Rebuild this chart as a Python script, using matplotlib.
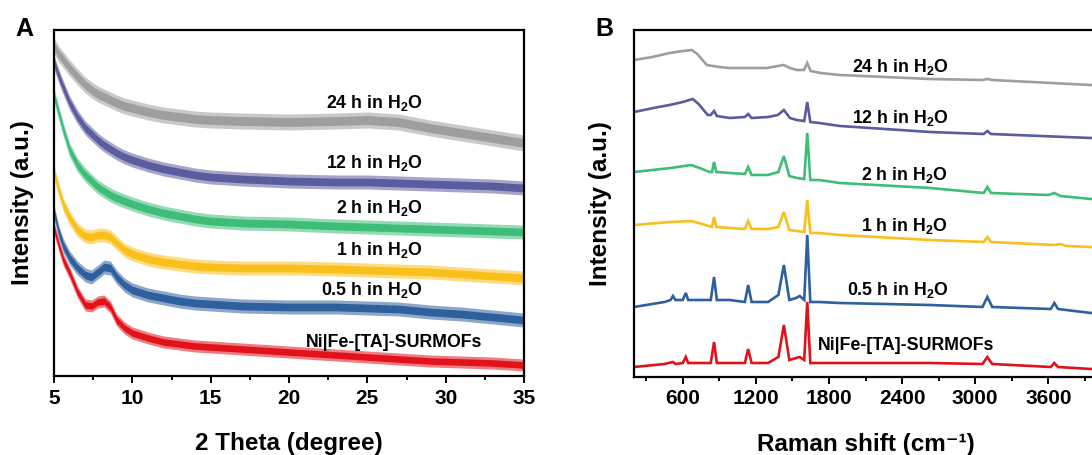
import matplotlib
matplotlib.use("Agg")
import matplotlib.pyplot as plt
import numpy as np
from matplotlib.ticker import MultipleLocator

plt.rcParams['font.family'] = ['Liberation Sans', 'DejaVu Sans']
plt.rcParams['font.weight'] = 'bold'
plt.rcParams['mathtext.fontset'] = 'custom'
plt.rcParams['mathtext.rm'] = 'Liberation Sans:bold'
plt.rcParams['mathtext.bf'] = 'Liberation Sans:bold'
plt.rcParams['mathtext.it'] = 'Liberation Sans:bold'
plt.rcParams['mathtext.sf'] = 'Liberation Sans:bold'
plt.rcParams['mathtext.default'] = 'rm'

# ---------------- XRD (panel A) ----------------
theta = [5, 5.3, 5.6, 6, 6.5, 7, 7.4, 7.8, 8.2, 8.6, 9, 9.5, 10, 11, 12, 13,
         14, 15, 17, 20, 23, 25, 27, 29, 31, 33, 35]
xrd_24h = [330, 322, 316, 308, 299, 291, 286, 282, 279, 276, 273, 270, 268, 264,
           261, 259, 257, 256, 255, 254, 255, 256, 254, 248, 243, 238, 233]
xrd_12h = [314, 300, 288, 273, 259, 248, 242, 236, 231, 227, 223, 219, 216, 211,
           207, 204, 201, 199, 197, 195, 194, 194, 193, 192, 191, 190, 188]
xrd_2h = [281, 263, 246, 226, 211, 201, 195, 189, 185, 181, 178, 175, 172, 167,
          163, 160, 157, 155, 153, 152, 150, 149, 148, 147, 146, 145, 144]
xrd_1h = [204, 186, 171, 158, 146, 140, 139, 141, 141, 139, 133, 126, 122, 117,
          114, 112, 110, 109, 108, 108, 107, 106, 105, 104, 102, 100, 98]
xrd_05h = [164, 144, 130, 118, 108, 101, 99, 104, 109, 108, 99, 91, 86, 81,
           78, 75, 73, 72, 70, 69, 69, 68, 67, 64, 62, 59, 56]
xrd_mof = [148, 131, 116, 103, 84, 71, 70, 74, 75, 69, 56, 48, 43, 38,
           34, 32, 30, 29, 27, 24, 21, 19, 17, 15, 14, 13, 11]
# half-height of the noise band of each pattern
xrd_noise = [8, 7, 7, 7, 7, 6]

# ---------------- Raman (panel B) ----------------
w_24h = [200, 350, 493, 600, 674, 720, 797, 900, 986, 1290, 1380, 1430, 1480,
         1537, 1595, 1622, 1650, 1730, 1890, 2630, 3060, 3100, 3140, 3950, 4000]
r_24h = [317, 320, 324, 326, 327, 323, 312, 310, 309, 309, 311, 312, 309,
         307, 307, 314, 306, 304, 302, 298, 297, 298, 297, 292, 292]
w_12h = [200, 400, 493, 600, 682, 730, 805, 830, 857, 880, 986, 1110, 1137, 1165,
         1300, 1380, 1430, 1480, 1537, 1597, 1622, 1647, 1720, 1890, 2630, 3070,
         3100, 3130, 3950, 4000]
r_12h = [265, 270, 272, 275, 278, 273, 262, 262, 266, 261, 259, 260, 263, 259,
         260, 262, 267, 259, 257, 256, 275, 255, 254, 251, 245, 243,
         246, 243, 239, 239]
w_2h = [200, 500, 670, 760, 820, 840, 857, 875, 986, 1110, 1137, 1165, 1300, 1385,
        1430, 1475, 1537, 1597, 1622, 1647, 1720, 1890, 2630, 3070, 3100, 3130,
        3600, 3650, 3700, 3950, 4000]
r_2h = [205, 209, 212, 208, 205, 205, 215, 205, 204, 203, 210, 202, 202, 205,
        221, 201, 199, 198, 244, 197, 197, 194, 189, 184, 190, 184,
        182, 184, 181, 178, 178]
w_1h = [200, 500, 670, 760, 840, 857, 875, 986, 1110, 1137, 1165, 1300, 1385, 1430,
        1475, 1537, 1597, 1622, 1647, 1720, 1890, 2630, 3070, 3100, 3130, 3650,
        3700, 3750, 3950, 4000]
r_1h = [152, 155, 156, 153, 150, 160, 150, 149, 148, 156, 148, 148, 150, 165,
        147, 146, 145, 177, 144, 144, 142, 137, 135, 140, 135, 132,
        133, 131, 130, 130]
w_05h = [200, 450, 500, 520, 540, 600, 625, 645, 830, 857, 880, 986, 1110, 1137,
         1165, 1300, 1385, 1430, 1475, 1530, 1560, 1597, 1622, 1647, 1720, 1890,
         2630, 3060, 3100, 3140, 3620, 3650, 3680, 3950, 4000]
r_05h = [70, 75, 77, 81, 77, 77, 84, 77, 77, 100, 77, 77, 75, 92,
         75, 75, 82, 112, 77, 79, 81, 77, 142, 75, 75, 74,
         72, 70, 80, 70, 68, 74, 68, 64, 64]
w_mof = [200, 450, 520, 540, 600, 625, 645, 830, 857, 880, 986, 1110, 1137, 1165,
         1300, 1385, 1430, 1475, 1530, 1560, 1597, 1622, 1647, 1720, 1890, 2630,
         3060, 3100, 3140, 3620, 3650, 3680, 3950, 4000]
r_mof = [10, 13, 15, 13, 14, 20, 14, 14, 35, 14, 14, 14, 28, 14,
         14, 20, 52, 17, 19, 20, 17, 75, 14, 14, 14, 14,
         13, 20, 13, 10, 14, 10, 8, 8]

colors = ['#9e9e9e', '#5b5b9f', '#3dbd78', '#f9c01c', '#2f609e', '#e1121b']
labels = [r'24 h in H$_2$O', r'12 h in H$_2$O', r'2 h in H$_2$O',
          r'1 h in H$_2$O', r'0.5 h in H$_2$O', 'Ni|Fe-[TA]-SURMOFs']

# label positions (x, baseline y) in data units
xrd_label_x = [28.55, 28.55, 28.55, 28.55, 28.55, 26.7]
xrd_label_y = [268, 208, 163, 121, 81, 29]
raman_label_x = [2778, 2778, 2778, 2778, 2778, 1708]
raman_label_y = [305, 254, 197, 146, 82, 27]

fig = plt.figure(figsize=(10.92, 4.55), dpi=100)
fig.patch.set_facecolor('white')

axA = fig.add_axes([54 / 1092, 79 / 455, 470 / 1092, 346 / 455])
axB = fig.add_axes([634 / 1092, 78 / 455, 463 / 1092, 347 / 455])

# panel A: noisy patterns drawn as bands
xrd_sets = [xrd_24h, xrd_12h, xrd_2h, xrd_1h, xrd_05h, xrd_mof]
th = np.array(theta, dtype=float)
for ys, c, hw in zip(xrd_sets, colors, xrd_noise):
    y = np.array(ys, dtype=float)
    axA.fill_between(th, y - hw, y + hw, color=c, lw=0, alpha=0.55)
    axA.fill_between(th, y - hw * 0.55, y + hw * 0.55, color=c, lw=0)

for i, lab in enumerate(labels):
    ha = 'right' if i < 5 else 'center'
    axA.text(xrd_label_x[i], xrd_label_y[i], lab, ha=ha, va='baseline',
             fontsize=12.8, fontweight='bold', color='black')

axA.set_xlim(5, 35)
axA.set_ylim(0, 346)
axA.xaxis.set_major_locator(MultipleLocator(5))
axA.xaxis.set_minor_locator(MultipleLocator(2.5))

# panel B: Raman spectra
raman_sets = [(w_24h, r_24h), (w_12h, r_12h), (w_2h, r_2h),
              (w_1h, r_1h), (w_05h, r_05h), (w_mof, r_mof)]
for (wx, ry), c in zip(raman_sets, colors):
    axB.plot(wx, ry, color=c, lw=1.9, solid_joinstyle='miter')

for i, lab in enumerate(labels):
    ha = 'right' if i < 5 else 'left'
    axB.text(raman_label_x[i], raman_label_y[i], lab, ha=ha, va='baseline',
             fontsize=12.8, fontweight='bold', color='black')

axB.set_xlim(200, 4000)
axB.set_ylim(0, 347)
axB.set_xticks([600, 1200, 1800, 2400, 3000, 3600])
axB.xaxis.set_minor_locator(MultipleLocator(300))

for ax in (axA, axB):
    for s in ax.spines.values():
        s.set_linewidth(1.6)
        s.set_color('black')
    ax.set_yticks([])
    ax.tick_params(axis='x', which='major', direction='out', length=5,
                   width=1.4, labelsize=15, pad=4)
    ax.tick_params(axis='x', which='minor', direction='out', length=3,
                   width=1.4)
    for t in ax.get_xticklabels():
        t.set_fontweight('bold')
    ax.set_ylabel('Intensity (a.u.)', fontsize=17.5, fontweight='bold')
    ax.yaxis.label.set_va('center')

axA.set_xlabel('2 Theta (degree)', fontsize=17.5, fontweight='bold')
axA.xaxis.set_label_coords(0.5, -0.213)
axA.xaxis.label.set_va('baseline')

# the Raman axis runs past the right edge, so centre its title on the axis span
fig.text((634 + 463 / 2) / 1092, 1 - 451 / 455, 'Raman shift (cm\u207b\u00b9)',
         fontsize=17.5, fontweight='bold', ha='center', va='baseline',
         family=['Liberation Sans', 'DejaVu Sans'])

axA.yaxis.set_label_coords(-0.068, 0.5)
axB.yaxis.set_label_coords(-0.073, 0.5)

fig.text(15 / 1092, 1 - 29 / 455, 'A', fontsize=18, fontweight='bold',
         ha='left', va='center')
fig.text(595 / 1092, 1 - 29 / 455, 'B', fontsize=18, fontweight='bold',
         ha='left', va='center')

fig.savefig('out.png', dpi=100, facecolor='white')
